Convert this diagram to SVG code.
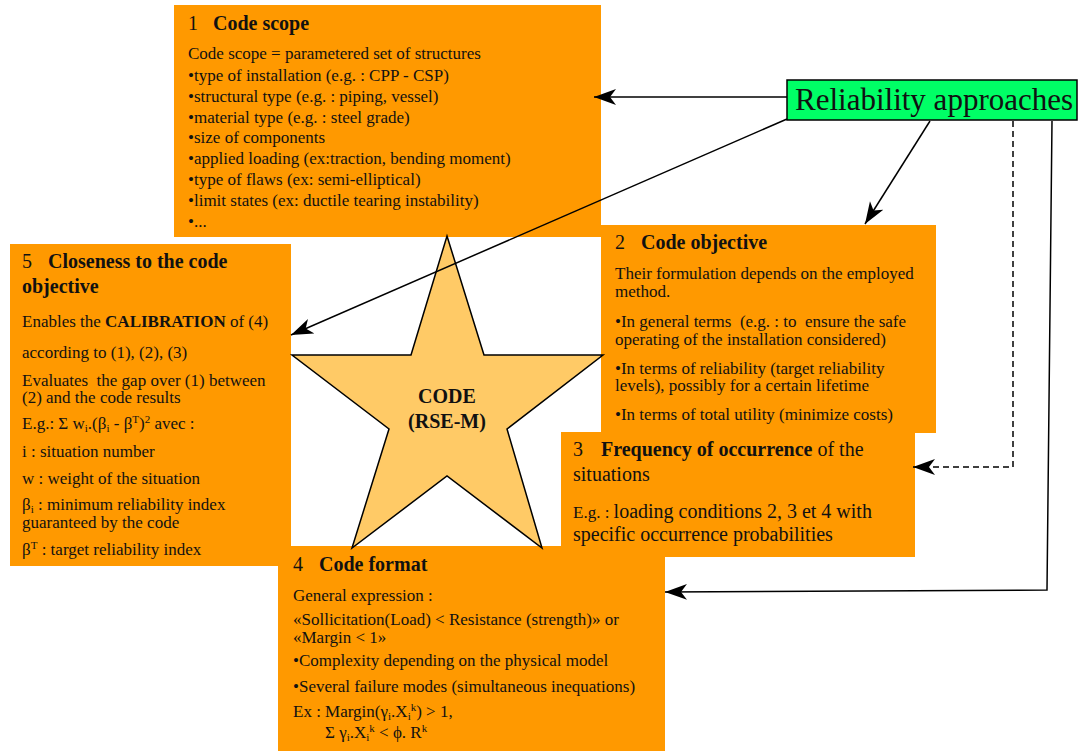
<svg xmlns="http://www.w3.org/2000/svg" width="1080" height="751" viewBox="0 0 1080 751">
<style>
.box{fill:#FF9900;}
.t{font-family:"Liberation Serif","Times New Roman",serif;font-size:17px;fill:#111;}
.h{font-family:"Liberation Serif","Times New Roman",serif;font-size:20px;fill:#111;}
.b{font-weight:bold;}
.s{font-size:11px;}
.con{fill:none;stroke:#000;stroke-width:1.5;}
.dash{stroke-dasharray:6,4;}
</style>
<defs>
<marker id="ah" markerUnits="userSpaceOnUse" markerWidth="24" markerHeight="18" refX="22" refY="8" orient="auto">
<path d="M0,0 L22,8 L0,16 L6,8 z" fill="#000"/>
</marker>
</defs>
<rect width="1080" height="751" fill="#fff"/>

<g id="node1">
<rect class="box" x="174" y="5" width="427" height="232"/>
<text class="h" x="188" y="30">1<tspan class="b" x="213">Code scope</tspan></text>
<text class="t" x="188" y="59">Code scope = parametered set of structures</text>
<text class="t" x="188" y="81">•type of installation (e.g. : CPP - CSP)</text>
<text class="t" x="188" y="102">•structural type (e.g. : piping, vessel)</text>
<text class="t" x="188" y="123">•material type (e.g. : steel grade)</text>
<text class="t" x="188" y="143">•size of components</text>
<text class="t" x="188" y="164">•applied loading (ex:traction, bending moment)</text>
<text class="t" x="188" y="185">•type of flaws (ex: semi-elliptical)</text>
<text class="t" x="188" y="206">•limit states (ex: ductile tearing instability)</text>
<text class="t" x="188" y="227">•...</text>
</g>

<g id="node5">
<rect class="box" x="10" y="244" width="281" height="322"/>
<text class="h" x="22" y="268">5<tspan class="b" x="48">Closeness to the code</tspan></text>
<text class="h b" x="22" y="293">objective</text>
<text class="t" x="22" y="327">Enables the <tspan class="b">CALIBRATION</tspan> of (4)</text>
<text class="t" x="22" y="358">according to (1), (2), (3)</text>
<text class="t" x="22" y="386">Evaluates &#160;the gap over (1) between</text>
<text class="t" x="22" y="403">(2) and the code results</text>
<text class="t" x="22" y="429">E.g.: Σ w<tspan class="s" dy="3">i</tspan><tspan dy="-3">.(β</tspan><tspan class="s" dy="3">i</tspan><tspan dy="-3"> - β</tspan><tspan class="s" dy="-6">T</tspan><tspan dy="6">)</tspan><tspan class="s" dy="-6">2</tspan><tspan dy="6"> avec :</tspan></text>
<text class="t" x="22" y="457">i : situation number</text>
<text class="t" x="22" y="484">w : weight of the situation</text>
<text class="t" x="22" y="510">β<tspan class="s" dy="3">i</tspan><tspan dy="-3"> : minimum reliability index</tspan></text>
<text class="t" x="22" y="528">guaranteed by the code</text>
<text class="t" x="22" y="555">β<tspan class="s" dy="-6">T</tspan><tspan dy="6"> : target reliability index</tspan></text>
</g>

<g id="node2">
<rect class="box" x="601" y="225" width="335" height="208"/>
<text class="h" x="615" y="249">2<tspan class="b" x="641">Code objective</tspan></text>
<text class="t" x="615" y="279">Their formulation depends on the employed</text>
<text class="t" x="615" y="297">method.</text>
<text class="t" x="615" y="327">•In general terms &#160;(e.g. : to &#160;ensure the safe</text>
<text class="t" x="615" y="345">operating of the installation considered)</text>
<text class="t" x="615" y="374">•In terms of reliability (target reliability</text>
<text class="t" x="615" y="391">levels), possibly for a certain lifetime</text>
<text class="t" x="615" y="420">•In terms of total utility (minimize costs)</text>
</g>

<g id="node3">
<rect class="box" x="561" y="432" width="354" height="125"/>
<text class="h" x="573" y="456">3<tspan class="b" x="601">Frequency of occurrence</tspan> of the</text>
<text class="h" x="573" y="481">situations</text>
<text class="h" x="573" y="518"><tspan font-size="17">E.g. : </tspan>loading conditions 2, 3 et 4 with</text>
<text class="h" x="573" y="541">specific occurrence probabilities</text>
</g>

<g id="node4">
<rect class="box" x="278" y="546" width="387" height="205"/>
<text class="h" x="293" y="571">4<tspan class="b" x="319">Code format</tspan></text>
<text class="t" x="293" y="601">General expression :</text>
<text class="t" x="293" y="625">«Sollicitation(Load) &lt; Resistance (strength)» or</text>
<text class="t" x="293" y="643">«Margin &lt; 1»</text>
<text class="t" x="293" y="666">•Complexity depending on the physical model</text>
<text class="t" x="293" y="692">•Several failure modes (simultaneous inequations)</text>
<text class="t" x="293" y="717">Ex : Margin(γ<tspan class="s" dy="3">i</tspan><tspan dy="-3">.X</tspan><tspan class="s" dy="3">i</tspan><tspan class="s" dy="-9">k</tspan><tspan dy="6">) &gt; 1,</tspan></text>
<text class="t" x="325" y="738">Σ γ<tspan class="s" dy="3">i</tspan><tspan dy="-3">.X</tspan><tspan class="s" dy="3">i</tspan><tspan class="s" dy="-9">k</tspan><tspan dy="6"> &lt; ϕ. R</tspan><tspan class="s" dy="-6">k</tspan></text>
</g>

<g id="star">
<polygon points="447,236 484,355 603,355 507,429 542,548 447,476 352,548 389,429 292,355 411,355" fill="#FFCA66" stroke="#000" stroke-width="1.5" stroke-linejoin="miter"/>
<text class="h b" x="447" y="403" text-anchor="middle" fill="#222">CODE</text>
<text class="h b" x="447" y="428" text-anchor="middle" fill="#222">(RSE-M)</text>
</g>

<g id="reliability">
<rect x="787" y="80" width="290" height="40" fill="#00FF66" stroke="#000" stroke-width="1.5"/>
<text x="795" y="110" font-family="Liberation Serif, Times New Roman, serif" font-size="31" fill="#111">Reliability approaches</text>
</g>

<g id="connectors">
<line class="con" x1="787" y1="97" x2="594" y2="97" marker-end="url(#ah)"/>
<line class="con" x1="787" y1="119" x2="291" y2="335" marker-end="url(#ah)"/>
<line class="con" x1="930" y1="121" x2="865" y2="224" marker-end="url(#ah)"/>
<polyline class="con dash" points="1013,121 1013,467 913,467" marker-end="url(#ah)"/>
<polyline class="con" points="1052,121 1047,590 665,592" marker-end="url(#ah)"/>
</g>
</svg>
